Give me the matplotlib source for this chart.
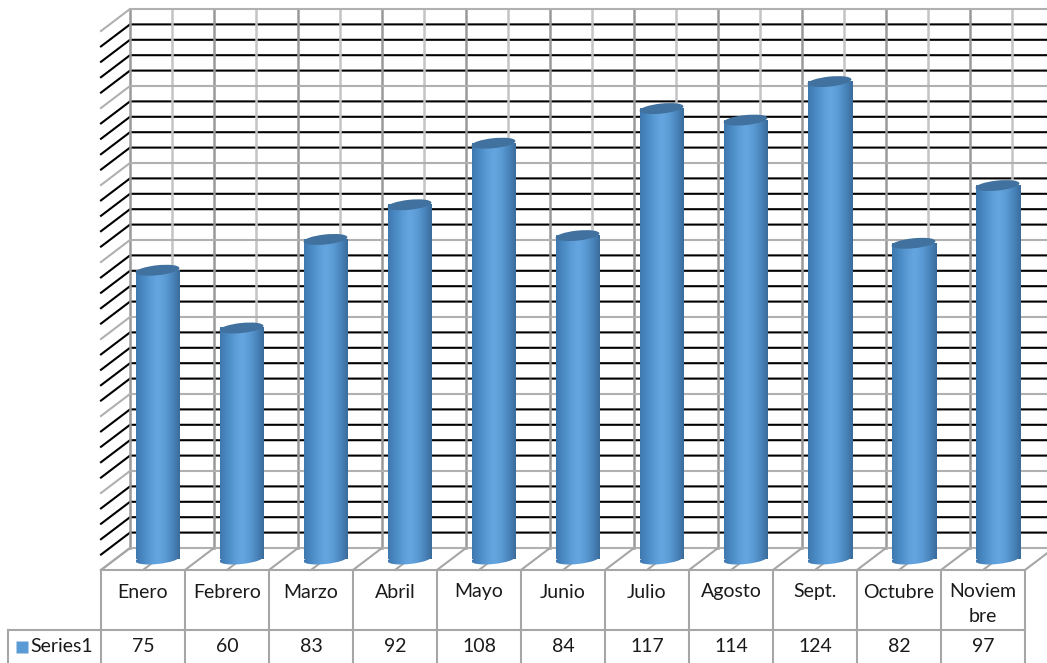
import numpy as np
import matplotlib
matplotlib.use("Agg")
import matplotlib.pyplot as plt
from matplotlib.colors import LinearSegmentedColormap
from matplotlib.patches import Ellipse
from matplotlib.transforms import Affine2D

months = ["Enero", "Febrero", "Marzo", "Abril", "Mayo", "Junio", "Julio",
          "Agosto", "Sept.", "Octubre", "Noviem\nbre"]
values = [75, 60, 83, 92, 108, 84, 117, 114, 124, 82, 97]
series_name = "Series1"
y_max = 140
y_step = 4
y_major = 20

W, H = 1047, 663
# back wall origin and scale, in pixels
X0, Y0 = 130, 548
PX_CAT, PX_VAL = 84, 15.4 / y_step
DX, DY = -29 / PX_CAT, -22 / PX_VAL      # floor depth, in data units

GREY = "#a6a6a6"
GRID_LIGHT = "#c4c4c4"
GRID_DARK = "#999999"
TXT = "#1a1a1a"
BODY = LinearSegmentedColormap.from_list(
    "cyl", ["#3f78ae", "#4a8ac4", "#5b9bd5", "#65a6e2", "#5b9bd5", "#4a86bd", "#3a6c9b"])

plt.rcParams["font.family"] = ["Lato", "DejaVu Sans"]
fig = plt.figure(figsize=(W / 100, H / 100), dpi=100)
ax = fig.add_axes([0, 0, 1, 1])
xlim = (-X0 / PX_CAT, (W - X0) / PX_CAT)
ylim = ((Y0 - H) / PX_VAL, Y0 / PX_VAL)
ax.set_xlim(*xlim)
ax.set_ylim(*ylim)
ax.set_autoscale_on(False)
n = len(months)

# back wall and left wall grid
for v in np.arange(0, y_max + 1, y_step):
    major = v % y_major == 0
    col = "#b0b0b0" if major else "black"
    ax.plot([DX, 0, xlim[1]], [v + DY, v, v], color=col, lw=1.5, zorder=2 if major else 1.5,
            solid_joinstyle="miter")
for i in np.arange(0, n + 1, 0.5):
    on_cat = float(i).is_integer()
    ax.plot([i, i], [0, y_max], color=GRID_DARK if on_cat else GRID_LIGHT,
            lw=1.8, zorder=1.8)
    ax.plot([i + DX, i], [DY, 0], color=GREY, lw=1.5, zorder=2)

# cylinders
bar_w = 44 / PX_CAT
pad = 8 / PX_VAL
grad = np.linspace(0, 1, 128).reshape(1, -1)
for i, v in enumerate(values):
    cx = i + 0.5 + DX / 2
    base = DY / 2
    ax.imshow(grad, cmap=BODY, aspect="auto", zorder=3.1,
              extent=(cx - bar_w / 2, cx + bar_w / 2, base, v + base))
    # rounded foot, same shading as the body
    foot = Ellipse((0, 0), 44, 10, angle=6, facecolor="none", edgecolor="none")
    foot.set_transform(Affine2D().translate(*ax.transData.transform((cx, base))))
    ax.add_artist(foot)
    im = ax.imshow(grad, cmap=BODY, aspect="auto", zorder=3,
                   extent=(cx - bar_w / 2, cx + bar_w / 2, base - pad, base + pad))
    im.set_clip_path(foot)
    # top cap
    cap = Ellipse((0, 0), 44, 10, angle=6, facecolor="#41719f", edgecolor="none", zorder=3.2)
    cap.set_transform(Affine2D().translate(*ax.transData.transform((cx, v + base))))
    ax.add_artist(cap)

ax.set_xlim(*xlim)
ax.set_ylim(*ylim)
ax.axis("off")

# data table under the chart, bottom edge runs off the picture
row1 = DY - 60 / PX_VAL
row2 = row1 - 36 / PX_VAL
row_mid = row1 - 17 / PX_VAL
left = DX - 93 / PX_CAT
for i in range(n + 1):
    ax.plot([i + DX, i + DX], [DY, row2], color=GREY, lw=1.5, zorder=4)
ax.plot([DX, n + DX], [DY, DY], color=GREY, lw=1.5, zorder=4)
ax.plot([left, n + DX], [row1, row1], color=GREY, lw=1.5, zorder=4)
ax.plot([left, left], [row1, row2], color=GREY, lw=1.5, zorder=4)
for i in range(n):
    ax.text(i + 0.5 + DX, DY - (34 if "\n" in months[i] else 22) / PX_VAL,
            months[i], ha="center", va="center", fontsize=14, color=TXT,
            linespacing=1.55, zorder=5)
    ax.text(i + 0.5 + DX, row_mid, str(values[i]), ha="center", va="center",
            fontsize=14, color=TXT, zorder=5)
ax.text(DX - 8 / PX_CAT, row_mid, series_name, ha="right", va="center",
        fontsize=14, color=TXT, zorder=5)
ax.plot([left + 14 / PX_CAT], [row_mid], marker="s", ms=8.8, color="#5b9bd5",
        mec="none", zorder=5)

fig.savefig("out.png", dpi=100)
